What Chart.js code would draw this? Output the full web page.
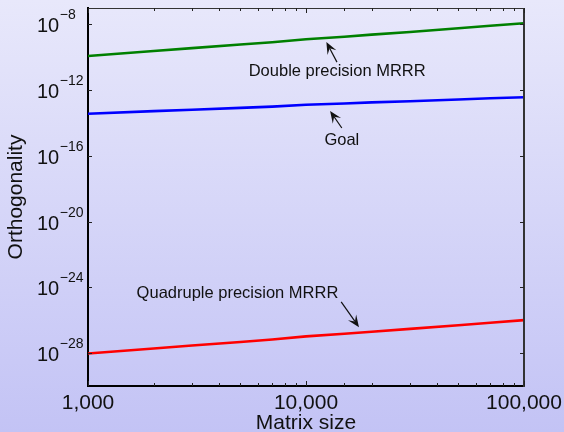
<!DOCTYPE html>
<html>
<head>
<meta charset="utf-8">
<script src="https://cdn.jsdelivr.net/npm/chart.js@4.4.1/dist/chart.umd.min.js"></script>
<style>
  html, body { margin: 0; padding: 0; }
  #wrap { width: 564px; height: 432px; }
</style>
</head>
<body>
<div id="wrap"><canvas id="orthoChart" width="564" height="432"></canvas></div>
<script>
// Matrix sizes (x) and orthogonality of the computed eigenvectors (y)
const sizes = [1000, 2000, 3000, 5000, 7000, 10000, 15000, 20000, 30000, 50000, 70000, 100000];
const doubleMRRR = [1.2e-10, 2.4e-10, 3.6e-10, 6.0e-10, 8.3e-10, 1.25e-9, 1.8e-9, 2.4e-9, 3.5e-9, 5.9e-9, 8.3e-9, 1.18e-8];
const goal = [3.7e-14, 5.3e-14, 6.5e-14, 8.4e-14, 1.0e-13, 1.3e-13, 1.55e-13, 1.8e-13, 2.1e-13, 2.7e-13, 3.2e-13, 3.7e-13];
const quadMRRR = [9.5e-29, 1.9e-28, 2.9e-28, 4.8e-28, 6.7e-28, 1.05e-27, 1.5e-27, 2.0e-27, 3.0e-27, 5.0e-27, 7.0e-27, 1.02e-26];

// y axis labels are drawn as 10^exp
const yTickExponents = [-28, -24, -20, -16, -12, -8];

// text labels with arrows, in data coordinates [size, orthogonality]
const notes = [
    { text: 'Double precision MRRR', at: [13900, 1.3e-11], tail: [13870, 5.1e-11], tip: [12400, 8.5e-10] },
    { text: 'Goal', at: [14600, 8.5e-16], tail: [14600, 5.0e-15], tip: [12900, 5.4e-14] },
    { text: 'Quadruple precision MRRR', at: [4850, 4.2e-25], tail: [14500, 1.3e-25], tip: [17500, 3.8e-27] }
];

const FONT = '"Liberation Sans", Arial, Helvetica, sans-serif';
const INK = '#111';

function points(values) {
    return sizes.map((n, i) => ({ x: n, y: values[i] }));
}

function isPow10(v) {
    const l = Math.log10(v);
    return Math.abs(l - Math.round(l)) < 1e-9;
}

// lavender gradient behind everything
const backdrop = {
    id: 'backdrop',
    beforeDraw(chart) {
        const { ctx, width, height } = chart;
        const g = ctx.createLinearGradient(0, 0, 0, height);
        g.addColorStop(0, '#e8e8fb');
        g.addColorStop(1, '#c3c3f5');
        ctx.save();
        ctx.fillStyle = g;
        ctx.fillRect(0, 0, width, height);
        ctx.restore();
    }
};

// box, inward tick marks and 10^n labels
const frame = {
    id: 'frame',
    afterDraw(chart) {
        const { ctx, chartArea: a } = chart;
        const xs = chart.scales.x, ys = chart.scales.y;
        ctx.save();

        // top and right edges of the box
        ctx.strokeStyle = '#333';
        ctx.lineWidth = 1;
        ctx.beginPath();
        ctx.moveTo(a.left, a.top + 0.5);
        ctx.lineTo(a.right, a.top + 0.5);
        ctx.stroke();
        ctx.lineWidth = 2;
        ctx.beginPath();
        ctx.moveTo(a.right, a.top);
        ctx.lineTo(a.right, a.bottom + 1);
        ctx.stroke();

        // x ticks, bottom and top
        ctx.strokeStyle = '#222';
        ctx.lineWidth = 1;
        xs.ticks.forEach(t => {
            const px = Math.round(xs.getPixelForValue(t.value)) + 0.5;
            const len = isPow10(t.value) ? 5 : 3;
            ctx.beginPath();
            ctx.moveTo(px, a.bottom);
            ctx.lineTo(px, a.bottom - len);
            ctx.moveTo(px, a.top);
            ctx.lineTo(px, a.top + len);
            ctx.stroke();
        });

        // y ticks, left and right, plus labels
        yTickExponents.forEach(e => {
            const py = Math.round(ys.getPixelForValue(Math.pow(10, e))) + 0.5;
            ctx.beginPath();
            ctx.moveTo(a.left, py);
            ctx.lineTo(a.left + 4, py);
            ctx.moveTo(a.right, py);
            ctx.lineTo(a.right - 4, py);
            ctx.stroke();

            ctx.fillStyle = INK;
            ctx.textAlign = 'left';
            ctx.textBaseline = 'alphabetic';
            ctx.font = '20px ' + FONT;
            const x0 = a.left - 51;
            ctx.fillText('10', x0, py + 7);
            const w = ctx.measureText('10').width;
            ctx.font = '14px ' + FONT;
            ctx.fillText('\u2212' + Math.abs(e), x0 + w + 0.5, py - 5.5);
        });
        ctx.restore();
    }
};

// labels with arrows pointing at the curves
const arrows = {
    id: 'arrows',
    afterDatasetsDraw(chart) {
        const { ctx } = chart;
        const xs = chart.scales.x, ys = chart.scales.y;
        const px = p => [xs.getPixelForValue(p[0]), ys.getPixelForValue(p[1])];
        ctx.save();
        notes.forEach(n => {
            const [tx, ty] = px(n.at);
            ctx.fillStyle = INK;
            ctx.font = '16.5px ' + FONT;
            ctx.textAlign = 'center';
            ctx.textBaseline = 'middle';
            ctx.fillText(n.text, tx, ty);

            const [x1, y1] = px(n.tail);
            const [x2, y2] = px(n.tip);
            const ang = Math.atan2(y2 - y1, x2 - x1);
            const head = 12, half = 5, notch = 7;
            ctx.strokeStyle = INK;
            ctx.lineWidth = 1.2;
            ctx.beginPath();
            ctx.moveTo(x1, y1);
            ctx.lineTo(x2 - Math.cos(ang) * notch, y2 - Math.sin(ang) * notch);
            ctx.stroke();

            const c = Math.cos(ang), s = Math.sin(ang);
            const bx = x2 - c * head, by = y2 - s * head;
            ctx.beginPath();
            ctx.moveTo(x2, y2);
            ctx.lineTo(bx - s * half, by + c * half);
            ctx.lineTo(x2 - c * notch, y2 - s * notch);
            ctx.lineTo(bx + s * half, by - c * half);
            ctx.closePath();
            ctx.fill();
        });
        ctx.restore();
    }
};

function lineSet(label, values, color) {
    return {
        label: label,
        data: points(values),
        borderColor: color,
        backgroundColor: color,
        borderWidth: 2.6,
        pointRadius: 0,
        tension: 0
    };
}

new Chart(document.getElementById('orthoChart'), {
    type: 'line',
    data: {
        datasets: [
            lineSet('Double precision MRRR', doubleMRRR, '#008000'),
            lineSet('Goal', goal, '#0000ff'),
            lineSet('Quadruple precision MRRR', quadMRRR, '#ff0000')
        ]
    },
    options: {
        responsive: false,
        animation: false,
        layout: { padding: { top: 8, right: 40, left: 0, bottom: 0 } },
        plugins: {
            legend: { display: false },
            tooltip: { enabled: false }
        },
        scales: {
            x: {
                type: 'logarithmic',
                min: 1000,
                max: 100000,
                afterFit: s => { s.height = 46; },
                grid: { display: false },
                border: { display: true, color: '#000', width: 2 },
                ticks: {
                    autoSkip: false,
                    maxRotation: 0,
                    padding: -3,
                    color: INK,
                    font: { family: FONT, size: 21 },
                    callback: v => isPow10(v) ? v.toLocaleString('en-US') : ''
                },
                title: {
                    display: true,
                    text: 'Matrix size',
                    color: INK,
                    font: { family: FONT, size: 21, lineHeight: 0.8 },
                    padding: { top: 0, bottom: 0 }
                }
            },
            y: {
                type: 'logarithmic',
                min: 1e-30,
                max: 1e-7,
                afterFit: s => { s.width = 88; },
                grid: { display: false },
                border: { display: true, color: '#000', width: 2 },
                ticks: { display: false },
                title: {
                    display: true,
                    text: 'Orthogonality',
                    color: INK,
                    font: { family: FONT, size: 21, lineHeight: 1 },
                    padding: { top: 6, bottom: 0 }
                }
            }
        }
    },
    plugins: [backdrop, frame, arrows]
});
</script>
</body>
</html>
